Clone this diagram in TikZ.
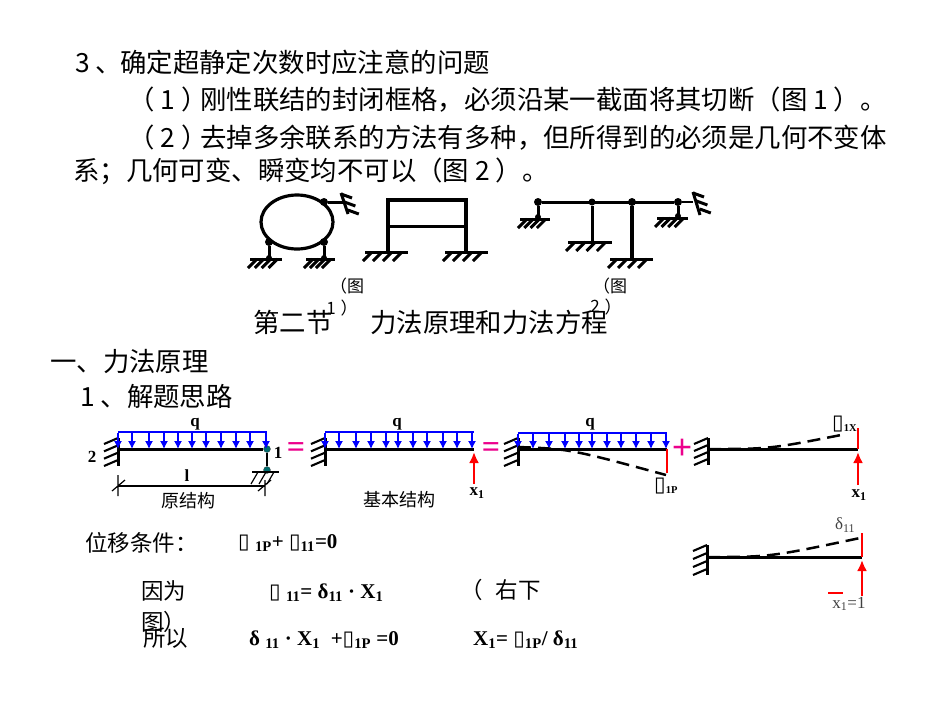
\documentclass[tikz,border=0pt]{standalone}
\usepackage{fontspec}
\setmainfont{Liberation Serif}
\newfontfamily\cjk{Noto Sans CJK SC}
\newfontfamily\symb{DejaVu Sans}
\usepackage{tikz}
\usetikzlibrary{arrows,arrows.meta,positioning}

\newcommand{\tofu}{{\symb\mdseries\fontsize{21}{21}\selectfont\char"25AF}}
\newcommand{\sbb}[1]{\textsubscript{#1}}

% ground under a support: x from, x to, y
\newcommand{\groundline}[3]{
	\draw[member] (#1,#3) -- (#2,#3);
	\foreach \k in {0,...,3}
		\draw[hatch] ({#1+7+\k*(#2-#1-8)/3.5},#3) -- ++(-9,9);
}
% wall on the left of a beam: x, top y, bottom y
\newcommand{\wallbeam}[3]{
	\draw[member] (#1,#2) -- (#1,#3);
	\foreach \k in {0,...,3}
		\draw[teeth] (#1,{#2+\k*(#3-#2-6)/3}) -- ++(-14,6);
}

\tikzset{
	member/.style={line width=3pt,line cap=butt},
	hatch/.style={line width=3pt},
	teeth/.style={line width=2.1pt},
	beam/.style={line width=3pt},
	hinge/.style={circle,fill=black,inner sep=0pt,minimum size=8pt},
	tealhinge/.style={circle,fill=teal!85!black,draw=black!70,line width=.3pt,inner sep=0pt,minimum size=7pt},
	load/.style={draw=blue,line width=2.2pt},
	loadarrow/.style={blue,line width=1.2pt,-{Latex[length=8pt,width=8pt]}},
	force/.style={red,line width=2.7pt,-{Latex[length=11pt,width=10pt]}},
	redbar/.style={red,line width=1.4pt},
	defl/.style={line width=2.5pt,dash pattern=on 13pt off 7pt},
	body/.style={font=\cjk\fontsize{26.4}{26.4}\selectfont,anchor=west,inner sep=0pt},
	subbody/.style={font=\cjk\fontsize{22.5}{22.5}\selectfont,anchor=west,inner sep=0pt},
	small/.style={font=\cjk\fontsize{17}{17}\selectfont,inner sep=0pt},
	caption/.style={font=\cjk\fontsize{18}{18}\selectfont,inner sep=0pt},
	mathrow/.style={font=\bfseries\fontsize{21}{21}\selectfont,anchor=west,inner sep=0pt},
	lab/.style={font=\bfseries\fontsize{17}{17}\selectfont,inner sep=0pt},
	labsmall/.style={font=\bfseries\fontsize{15}{15}\selectfont,inner sep=0pt,anchor=west},
	joinmark/.style={magenta,font=\bfseries\fontsize{32}{32}\selectfont,inner sep=0pt},
}

\begin{document}
\begin{tikzpicture}[x=1pt,y=-1pt]
	\useasboundingbox[fill=white] (0,0) rectangle (950,713);
	% Text lines
	\node[body] (lineA) at (75,62) {\makebox[45pt][l]{3 、}确定超静定次数时应注意的问题};
	\node[body] (lineB) at (128,100) {\makebox[72pt][l]{（ 1 ）}刚性联结的封闭框格，必须沿某一截面将其切断（图 1 ）。};
	\node[body] (lineC) at (128,138) {\makebox[72pt][l]{（ 2 ）}去掉多余联系的方法有多种，但所得到的必须是几何不变体};
	\node[body] (lineD) at (73,171) {系；几何可变、瞬变均不可以（图 2 ）。};
	% Ring on hinged links
	\draw[line width=3.2pt] (297,222) ellipse (36 and 27);
	\node[hinge] (ringA) at (269,242) {};
	\node[hinge] (ringB) at (324,242) {};
	\node[hinge] (ringC) at (324,202) {};
	\coordinate (ringD) at (269,258);
	\coordinate (ringE) at (324,258);
	\coordinate (ringF) at (343,202);
	\draw[member] (ringA) -- (ringD);
	\draw[member] (ringB) -- (ringE);
	\draw[member] (ringC) -- (ringF);
	\node[hinge,minimum size=6pt] at (ringD) {};
	\node[hinge,minimum size=6pt] at (ringE) {};
	\groundline{250}{282}{259}
	\groundline{306}{335}{259}
	\draw[member] (341,193) -- (348,214);
	\foreach \k in {0,1,2}
		\draw[hatch] ({341+\k*3.4},{194+\k*8}) -- ++(11,4);
	% Closed frame
	\coordinate (frameA) at (388,252);
	\coordinate (frameB) at (388,200);
	\coordinate (frameC) at (466,200);
	\coordinate (frameD) at (466,252);
	\coordinate (frameE) at (388,226);
	\coordinate (frameF) at (466,226);
	\draw[member,line width=3.6pt] (frameA) -- (frameB) -- (frameC) -- (frameD);
	\draw[member] (frameE) -- (frameF);
	\groundline{365}{408}{252}
	\groundline{445}{488}{252}
	% Beam on several columns
	\node[hinge] (topA) at (538,202) {};
	\node[hinge,minimum size=7pt] (topB) at (592,202) {};
	\node[hinge] (topC) at (632,202) {};
	\node[hinge] (topD) at (678,202) {};
	\coordinate (topE) at (693,202);
	\draw[member] (topA) -- (topD);
	\draw[member,line width=2.4pt] (topD) -- (topE);
	\draw[member] (topA) -- (538,219);
	\draw[member] (topB) -- (592,242);
	\draw[member,line width=4.2pt] (topC) -- (632,259);
	\draw[member] (topD) -- (678,218);
	\node[hinge,minimum size=6pt] at (538,217) {};
	\node[hinge,minimum size=6pt] at (678,216) {};
	\groundline{520}{550}{219}
	\groundline{568}{612}{242}
	\groundline{610}{653}{259}
	\groundline{657}{688}{218}
	\draw[member] (693,192) -- (700,215);
	\foreach \k in {0,1,2}
		\draw[hatch] ({693+\k*3.4},{193+\k*8}) -- ++(11,4);
	% Captions of the small figures
	\node[small] (figA) at (347,286) {（图};
	\node[small] (figAa) at (331,308) {1};
	\node[small] (figAb) at (349,308) {）};
	\node[small] (figB) at (610,286) {（图};
	\node[small] (figBa) at (595,306) {2};
	\node[small] (figBb) at (613,307) {）};
	% Section headings
	\node[body] (headA) at (253,322) {第二节};
	\node[body] (headB) at (370,322) {力法原理和力法方程};
	\node[body] (headC) at (50,362) {一、力法原理};
	\node[body] (headD) at (80,396) {1 、解题思路};
	% First beam
	\wallbeam{118}{438}{466}
	\coordinate (oneA) at (118,449);
	\node[tealhinge] (oneB) at (267,449) {};
	\node[tealhinge] (oneC) at (267,470) {};
	\draw[beam] (oneA) -- (oneB);
	\draw[line width=1.2pt] (oneB) -- (oneC);
	\draw[load] (118,432) -- (267,432);
	\foreach \x in {118,132,149,164,178,192,206,221,236,250,266}
		\draw[loadarrow] (\x,433) -- (\x,449);
	\draw[line width=1.2pt] (252,472) -- (279,472);
	\foreach \x in {258,266,274}
		\draw[line width=1.2pt] (\x,472) -- ++(-7,12);
	\coordinate (dimA) at (118,486);
	\coordinate (dimB) at (265,486);
	\draw[line width=1.8pt] (dimA) -- (dimB);
	\draw[line width=1.2pt] (118,475) -- (118,496) (112,491) -- (125,480);
	\draw[line width=1.2pt] (265,480) -- (265,496) (258,491) -- (271,480);
	\node[lab] (qA) at (195,424) {q};
	\node[lab] (lenA) at (187,476) {l};
	\node[lab] (endA) at (92,457) {2};
	\node[lab] (endB) at (278,453) {1};
	\node[caption] (capA) at (188,501) {原结构};
	\node[joinmark] (eqA) at (296,450) {=};
	% Second beam
	\wallbeam{325}{438}{466}
	\coordinate (twoA) at (325,449);
	\coordinate (twoB) at (474,449);
	\draw[beam] (twoA) -- (twoB);
	\draw[load] (325,432) -- (474,432);
	\foreach \x in {325,339,356,371,386,398,413,427,443,457,472}
		\draw[loadarrow] (\x,433) -- (\x,449);
	\coordinate (twoC) at (474,484);
	\coordinate (twoD) at (474,452);
	\draw[force] (twoC) -- (twoD);
	\node[lab] (qB) at (397,424) {q};
	\node[lab] (xA) at (477,493) {x\sbb{1}};
	\node[caption] (capB) at (399,500) {基本结构};
	\node[joinmark] (eqB) at (491,450) {=};
	% Third beam
	\wallbeam{518}{438}{466}
	\coordinate (threeA) at (518,449);
	\coordinate (threeB) at (667,449);
	\coordinate (threeC) at (667,473);
	\coordinate (threeD) at (666,475);
	\draw[beam] (threeA) -- (threeB);
	\draw[load] (518,433) -- (667,433);
	\foreach \x in {518,533,549,565,579,592,607,621,636,651,666}
		\draw[loadarrow] (\x,434) -- (\x,449);
	\draw[redbar] (threeB) -- (threeC);
	\draw[defl] (threeA) ++(0,-2) .. controls (570,449) .. (threeD);
	\node[lab] (qC) at (590,424) {q};
	\node[labsmall] (deltaA) at (654,486) {\tofu\sbb{1P}};
	\node[joinmark,font=\bfseries\fontsize{36}{36}\selectfont] (plusA) at (682,449) {+};
	% Fourth beam
	\wallbeam{708}{438}{465}
	\coordinate (fourA) at (708,449);
	\coordinate (fourB) at (858,449);
	\coordinate (fourC) at (858,428);
	\coordinate (fourD) at (846,434);
	\draw[beam] (fourA) -- (fourB);
	\draw[redbar] (fourB) -- (fourC);
	\draw[defl] (fourA) .. controls (770,449) .. (fourD);
	\coordinate (fourE) at (858,485);
	\coordinate (fourF) at (858,452);
	\draw[force] (fourE) -- (fourF);
	\node[lab] (xB) at (859,495) {x\sbb{1}};
	\node[labsmall] (deltaB) at (832,424) {\tofu\sbb{1X}};
	% Fifth beam
	\wallbeam{707}{545}{575}
	\coordinate (fiveA) at (707,557);
	\coordinate (fiveB) at (862,557);
	\coordinate (fiveC) at (862,533);
	\coordinate (fiveD) at (860,538);
	\draw[beam] (fiveA) -- (fiveB);
	\draw[redbar] (fiveB) -- (fiveC);
	\draw[defl] (fiveA) .. controls (770,557) .. (fiveD);
	\coordinate (fiveE) at (862,596);
	\coordinate (fiveF) at (862,560);
	\draw[force] (fiveE) -- (fiveF);
	\draw[red,line width=1.8pt] (828,593) -- (843,593);
	\node[inner sep=0pt,text=black!75,font=\fontsize{17}{17}\selectfont] (deltaC) at (845,525) {δ\sbb{11}};
	\node[inner sep=0pt,text=black!75,font=\fontsize{17}{17}\selectfont] (xC) at (849,604) {x\sbb{1}=1};
	% Formulas
	\node[subbody] (condA) at (85,543) {位移条件：};
	\node[mathrow] (formA) at (238,543) {\tofu\ \sbb{1P}+ \tofu\sbb{11}=0};
	\node[subbody] (condB) at (141,591) {因为};
	\node[subbody] (condC) at (141,622) {图）};
	\node[mathrow] (formB) at (269,593) {\tofu\ \sbb{11}= δ\sbb{11} · X\sbb{1}};
	\node[subbody] (condD) at (460,590) {（\hspace{13pt}右下};
	\node[subbody] (condE) at (143,638) {所以};
	\node[mathrow] (formC) at (249,640) {δ \sbb{11} · X\sbb{1} \ +\tofu\sbb{1P} =0};
	\node[mathrow] (formD) at (473,640) {X\sbb{1}= \tofu\sbb{1P}/ δ\sbb{11}};
\end{tikzpicture}
\end{document}
